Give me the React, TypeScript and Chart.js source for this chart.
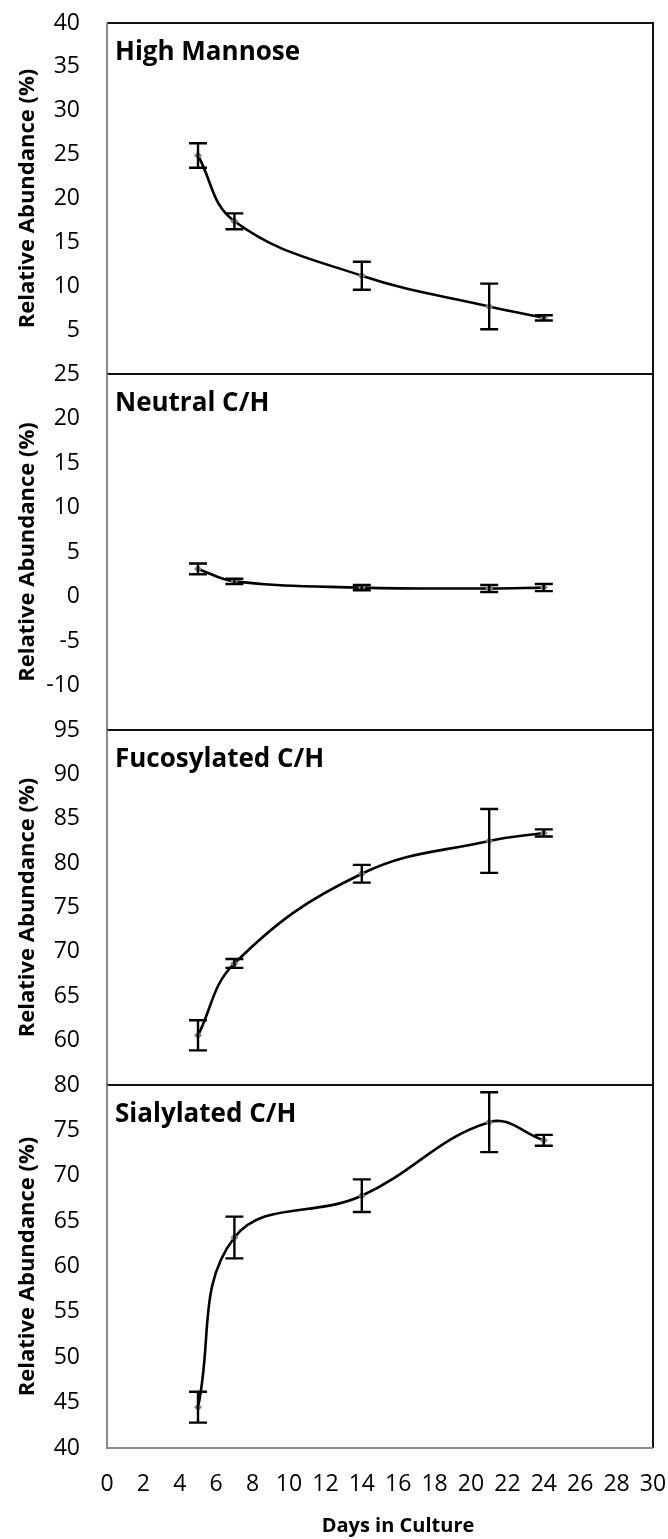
import React, { useEffect, useRef } from "react";
import { Chart, registerables } from "chart.js";

Chart.register(...registerables);

// ---- data ----
const days = [5, 7, 14, 21, 24];
const panelTitles = ["High Mannose", "Neutral C/H", "Fucosylated C/H", "Sialylated C/H"];

const highMannose = [24.9, 17.4, 11.2, 7.7, 6.4];
const highMannoseErr = [1.4, 0.9, 1.6, 2.6, 0.3];

const neutralCH = [3.1, 1.7, 1.0, 0.9, 1.0];
const neutralCHErr = [0.6, 0.3, 0.3, 0.4, 0.4];

const fucosylatedCH = [60.6, 68.7, 78.8, 82.5, 83.4];
const fucosylatedCHErr = [1.7, 0.5, 1.0, 3.6, 0.4];

const sialylatedCH = [44.5, 63.2, 67.8, 75.9, 73.9];
const sialylatedCHErr = [1.7, 2.3, 1.8, 3.3, 0.6];

const yMins = [0, -15, 55, 40];
const yMaxs = [40, 25, 95, 80];
const yStep = 5;

const xMin = 0;
const xMax = 30;
const xStep = 2;

const yTitle = "Relative Abundance (%)";
const xTitle = "Days in Culture";

const seriesValues = [highMannose, neutralCH, fucosylatedCH, sialylatedCH];
const seriesErrors = [highMannoseErr, neutralCHErr, fucosylatedCHErr, sialylatedCHErr];

const FONT = "'Open Sans', Lato, sans-serif";
const axisIds = ["yHM", "yNeu", "yFuc", "ySia"];
const stackWeights = [351, 356, 355, 363];

const errorBarPlugin = {
  id: "errorBars",
  afterDatasetsDraw(chart: any) {
    const ctx = chart.ctx;
    const xs = chart.scales.x;
    ctx.save();
    ctx.strokeStyle = "#000";
    ctx.lineWidth = 2.4;
    seriesValues.forEach((vals, p) => {
      const ys = chart.scales[axisIds[p]];
      vals.forEach((v, i) => {
        const e = seriesErrors[p][i];
        const x = xs.getPixelForValue(days[i]);
        const y1 = ys.getPixelForValue(v + e);
        const y2 = ys.getPixelForValue(v - e);
        const cap = 9;
        ctx.beginPath();
        ctx.moveTo(x, y1);
        ctx.lineTo(x, y2);
        ctx.moveTo(x - cap, y1);
        ctx.lineTo(x + cap, y1);
        ctx.moveTo(x - cap, y2);
        ctx.lineTo(x + cap, y2);
        ctx.stroke();
      });
    });
    ctx.restore();
  },
};

const framePlugin = {
  id: "frames",
  afterDraw(chart: any) {
    const ctx = chart.ctx;
    const xs = chart.scales.x;
    const left = xs.left;
    const right = xs.right;
    ctx.save();
    axisIds.forEach((id, p) => {
      const ys = chart.scales[id];
      const top = ys.top;
      const bottom = ys.bottom;
      ctx.lineWidth = 2;
      ctx.strokeStyle = "#111";
      ctx.beginPath();
      ctx.moveTo(left, top);
      ctx.lineTo(right, top);
      ctx.lineTo(right, bottom);
      if (p < 3) ctx.lineTo(left, bottom);
      ctx.stroke();
      ctx.strokeStyle = "#8a8a8a";
      ctx.beginPath();
      ctx.moveTo(left, top);
      ctx.lineTo(left, bottom);
      if (p === 3) ctx.lineTo(right, bottom);
      ctx.stroke();
      ctx.fillStyle = "#000";
      ctx.font = `bold 26px ${FONT}`;
      ctx.textAlign = "left";
      ctx.textBaseline = "alphabetic";
      ctx.fillText(panelTitles[p], left + 8, top + 37);
    });
    // x axis title
    ctx.font = `bold 20px ${FONT}`;
    ctx.textAlign = "center";
    ctx.textBaseline = "middle";
    ctx.fillStyle = "#000";
    ctx.fillText(xTitle, 398, xs.bottom - 13);
    ctx.restore();
  },
};

export default function App() {
  const ref = useRef<HTMLCanvasElement>(null);

  useEffect(() => {
    if (!ref.current) return;
    const scales: any = {
      x: {
        type: "linear",
        min: xMin,
        max: xMax,
        ticks: {
          stepSize: xStep,
          autoSkip: false,
          maxRotation: 0,
          padding: 0,
          color: "#000",
          font: { size: 23, family: FONT },
        },
        grid: { display: false, drawTicks: true, tickLength: 23 },
        border: { display: false },
        title: { display: false, text: xTitle },
        afterFit: (s: any) => {
          s.height = 91;
        },
      },
    };
    axisIds.forEach((id, p) => {
      scales[id] = {
        type: "linear",
        position: "left",
        stack: "panels",
        stackWeight: stackWeights[p],
        weight: 4 - p,
        min: yMins[p],
        max: yMaxs[p],
        ticks: {
          stepSize: yStep,
          autoSkip: false,
          padding: 0,
          color: "#000",
          font: { size: 23, family: FONT },
          callback: (v: number) => (p < 3 && v === yMins[p] ? "" : String(v)),
        },
        grid: { display: false, drawTicks: true, tickLength: 27 },
        border: { display: false },
        title: {
          display: true,
          text: yTitle,
          color: "#000",
          font: { size: 22, weight: "bold", family: FONT },
          padding: { top: 15, bottom: 0 },
        },
        afterFit: (s: any) => {
          s.width = 107;
        },
      };
    });

    const datasets = seriesValues.map((vals, p) => ({
      label: panelTitles[p],
      data: vals.map((v, i) => ({ x: days[i], y: v })),
      yAxisID: axisIds[p],
      xAxisID: "x",
      borderColor: "#000",
      borderWidth: 2.6,
      tension: 0.4,
      pointRadius: 4,
      pointStyle: "rectRot",
      pointBackgroundColor: "#808080",
      pointBorderWidth: 0,
      fill: false,
    }));

    const chart = new Chart(ref.current, {
      type: "line",
      data: { datasets },
      options: {
        animation: false,
        responsive: false,
        layout: { padding: { top: 23, right: 15, bottom: 0, left: 0 } },
        plugins: { legend: { display: false }, tooltip: { enabled: false } },
        scales,
      },
      plugins: [errorBarPlugin, framePlugin],
    } as any);
    return () => chart.destroy();
  }, []);

  return (
    <div style={{ position: "absolute", left: 0, top: 0, width: 668, height: 1539, background: "#fff" }}>
      <canvas ref={ref} width={668} height={1539} style={{ display: "block" }} />
    </div>
  );
}
